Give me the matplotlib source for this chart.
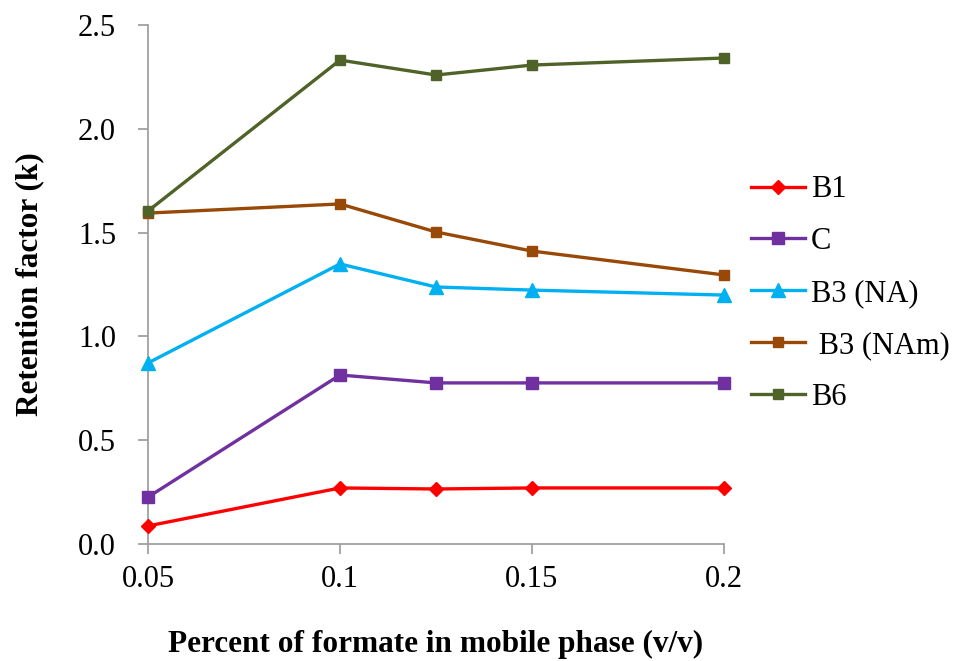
import matplotlib
matplotlib.use('Agg')
import matplotlib.pyplot as plt

plt.rcParams['font.family'] = ['Liberation Serif', 'DejaVu Serif']

x = [0.05, 0.1, 0.125, 0.15, 0.2]

b1 = [0.087, 0.27, 0.265, 0.27, 0.27]
c = [0.226, 0.814, 0.776, 0.776, 0.776]
b3_na = [0.872, 1.349, 1.238, 1.223, 1.199]
b3_nam = [1.594, 1.638, 1.503, 1.411, 1.296]
b6 = [1.604, 2.331, 2.259, 2.307, 2.341]

x_ticks = [0.05, 0.1, 0.15, 0.2]
x_tick_labels = ['0.05', '0.1', '0.15', '0.2']
y_ticks = [0.0, 0.5, 1.0, 1.5, 2.0, 2.5]

f = plt.figure(figsize=(9.59, 6.61), dpi=100)
ax = f.add_axes([148/959, 1-544/661, (724-148)/959, (544-25)/661])

lw = 2.4
ax.plot(x, b1, color='#FF0000', lw=lw, marker='D', ms=7, label='B1')
ax.plot(x, c, color='#7030A0', lw=lw, marker='s', ms=9, label='C')
ax.plot(x, b3_na, color='#00B0F0', lw=lw, marker='^', ms=10, label='B3 (NA)')
ax.plot(x, b3_nam, color='#984807', lw=lw, marker='s', ms=7.5, label=' B3 (NAm)')
ax.plot(x, b6, color='#4F6228', lw=lw, marker='s', ms=7.5, label='B6')

ax.set_xlim(0.05, 0.2)
ax.set_ylim(0, 2.5)
ax.set_xticks(x_ticks)
ax.set_xticklabels(x_tick_labels)
ax.set_yticks(y_ticks)
ax.set_yticklabels(['%.1f' % v for v in y_ticks])

for s in ['top', 'right']:
    ax.spines[s].set_visible(False)
for s in ['left', 'bottom']:
    ax.spines[s].set_color('#A0A0A0')
    ax.spines[s].set_linewidth(1.3)
    ax.spines[s].set_zorder(0)
ax.tick_params(colors='#A0A0A0', labelcolor='black', labelsize=22,
               length=7, width=1.3)
ax.tick_params(axis='x', pad=8)
ax.tick_params(axis='y', pad=16)

ax.set_xlabel('Percent of formate in mobile phase (v/v)', fontsize=22.5,
              fontweight='bold', labelpad=26)
ax.set_ylabel('Retention factor (k)', fontsize=22.5, fontweight='bold',
              labelpad=24)

for ln in ax.get_lines():
    ln.set_clip_on(False)

f.legend(loc='upper left', bbox_to_anchor=(739/959, 1-163/661),
         frameon=False, fontsize=22, handlelength=1.75, handletextpad=0.2,
         labelspacing=0.75, borderaxespad=0)

f.savefig('out.png', dpi=100)
